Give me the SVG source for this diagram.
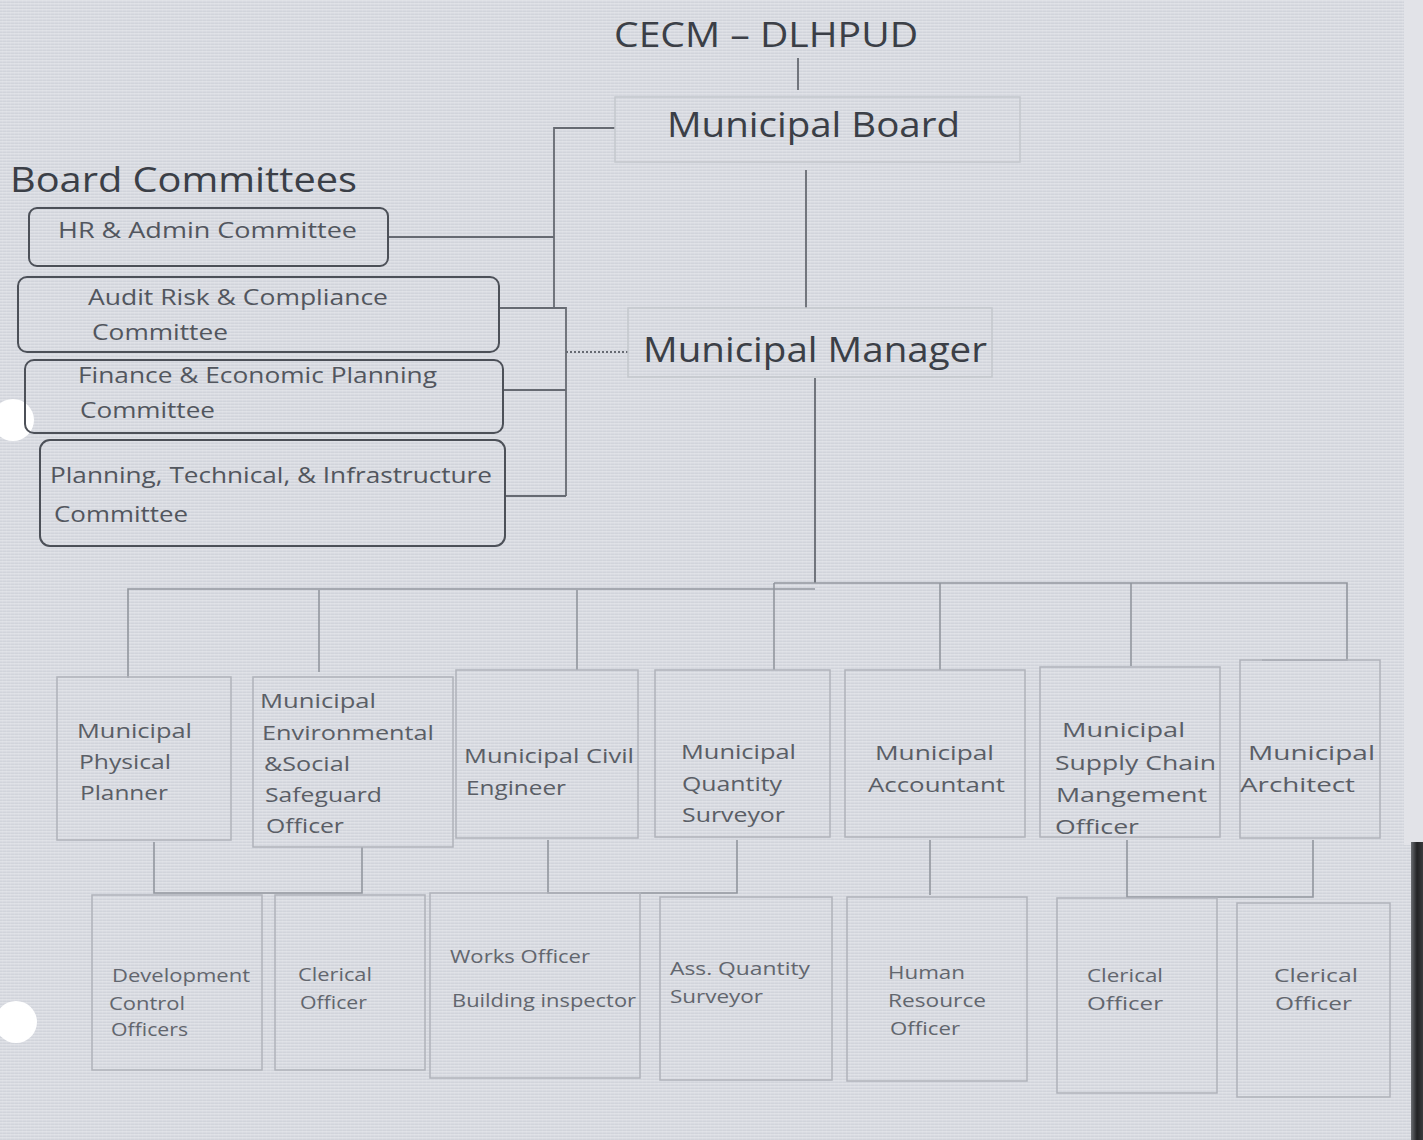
<svg xmlns="http://www.w3.org/2000/svg" width="1423" height="1140" viewBox="0 0 1423 1140">
<defs>
<pattern id="weave" width="4" height="3" patternUnits="userSpaceOnUse">
<rect width="4" height="1" fill="#ffffff" opacity="0.18"/>
<rect x="0" y="2" width="4" height="1" fill="#9a9ca6" opacity="0.10"/>
<rect x="2" y="0" width="1" height="3" fill="#ffffff" opacity="0.08"/>
</pattern>
<linearGradient id="edge" x1="0" y1="0" x2="1" y2="0">
<stop offset="0" stop-color="#6a6d72"/>
<stop offset="0.5" stop-color="#222325"/>
<stop offset="1" stop-color="#3a3b3e"/>
</linearGradient>
<style>
.t{font-family:"Open Sans","Liberation Sans",sans-serif;}
.big{font-size:35px;fill:#3b3f47;}
.com{font-size:21px;fill:#52565e;}
.mid{font-size:20.5px;fill:#5a5e66;}
.bot{font-size:17.5px;fill:#62666e;}
.cbox{fill:none;stroke:#4c5058;stroke-width:2;}
.fbox{fill:none;stroke:#b0b3ba;stroke-width:1.5;}
.vfbox{fill:none;stroke:#c4c7cd;stroke-width:1.5;}
.con{fill:none;stroke:#666a72;stroke-width:1.8;}
.fcon{fill:none;stroke:#92969e;stroke-width:1.6;}
</style>
</defs>
<rect width="1423" height="1140" fill="#d8dae1"/>
<rect width="1423" height="1140" fill="url(#weave)"/>
<rect x="1404" y="0" width="19" height="845" fill="#e2e3e8"/>
<rect x="1411" y="842" width="12" height="298" fill="url(#edge)"/>
<circle cx="13" cy="420" r="21" fill="#ffffff"/>
<circle cx="16" cy="1022" r="21" fill="#ffffff"/>

<g id="connectors">
<path class="con" d="M798 58 V90"/>
<path class="con" d="M615 128 H554 V308"/>
<path class="con" d="M388 237 H554"/>
<path class="con" d="M499 308 H566 V496"/>
<path class="con" d="M503 390 H566"/>
<path class="con" d="M505 496 H566"/>
<path class="con" d="M566 352 H628" stroke-dasharray="2 2"/>
<path class="con" d="M806 170 V308"/>
<path class="con" d="M815 378 V583"/>
<path class="fcon" d="M774 583 H1347 V660 H1262"/>
<path class="fcon" d="M815 589 H128 V678"/>
<path class="fcon" d="M319 590 V672"/>
<path class="fcon" d="M577 590 V670"/>
<path class="fcon" d="M774 583 V670"/>
<path class="fcon" d="M940 583 V670"/>
<path class="fcon" d="M1131 583 V666"/>
<path class="fcon" d="M154 842 V893 H362 V847"/>
<path class="fcon" d="M548 840 V893 H737 V840"/>
<path class="fcon" d="M930 840 V895"/>
<path class="fcon" d="M1127 840 V897 H1313 V840"/>
</g>

<g id="cecm">
<text class="t big" x="614" y="47" textLength="304" lengthAdjust="spacingAndGlyphs">CECM – DLHPUD</text>
</g>
<g id="municipal-board">
<rect class="vfbox" x="615" y="97" width="405" height="65"/>
<text class="t big" x="667" y="137" textLength="293" lengthAdjust="spacingAndGlyphs">Municipal Board</text>
</g>
<g id="board-committees">
<text class="t big" x="10" y="192" textLength="347" lengthAdjust="spacingAndGlyphs">Board Committees</text>
</g>
<g id="municipal-manager">
<rect class="vfbox" x="628" y="308" width="364" height="69"/>
<text class="t big" x="643" y="362" textLength="344" lengthAdjust="spacingAndGlyphs">Municipal Manager</text>
</g>

<g id="hr-admin">
<rect class="cbox" x="29" y="208" width="359" height="58" rx="8"/>
<text class="t com" x="58" y="238" textLength="299" lengthAdjust="spacingAndGlyphs">HR &amp; Admin Committee</text>
</g>
<g id="audit">
<rect class="cbox" x="18" y="277" width="481" height="75" rx="9"/>
<text class="t com" x="88" y="305" textLength="300" lengthAdjust="spacingAndGlyphs">Audit Risk &amp; Compliance</text>
<text class="t com" x="92" y="340" textLength="136" lengthAdjust="spacingAndGlyphs">Committee</text>
</g>
<g id="finance">
<rect class="cbox" x="25" y="360" width="478" height="73" rx="9"/>
<text class="t com" x="78" y="383" textLength="359" lengthAdjust="spacingAndGlyphs">Finance &amp; Economic Planning</text>
<text class="t com" x="80" y="418" textLength="135" lengthAdjust="spacingAndGlyphs">Committee</text>
</g>
<g id="planning">
<rect class="cbox" x="40" y="440" width="465" height="106" rx="10"/>
<text class="t com" x="50" y="483" textLength="442" lengthAdjust="spacingAndGlyphs">Planning, Technical, &amp; Infrastructure</text>
<text class="t com" x="54" y="522" textLength="134" lengthAdjust="spacingAndGlyphs">Committee</text>
</g>

<g id="physical-planner">
<rect class="fbox" x="57" y="677" width="174" height="163"/>
<text class="t mid" x="77" y="738" textLength="115" lengthAdjust="spacingAndGlyphs">Municipal</text>
<text class="t mid" x="79" y="769" textLength="92" lengthAdjust="spacingAndGlyphs">Physical</text>
<text class="t mid" x="80" y="800" textLength="88" lengthAdjust="spacingAndGlyphs">Planner</text>
</g>
<g id="env-officer">
<rect class="fbox" x="253" y="677" width="200" height="170"/>
<text class="t mid" x="260" y="708" textLength="116" lengthAdjust="spacingAndGlyphs">Municipal</text>
<text class="t mid" x="262" y="740" textLength="172" lengthAdjust="spacingAndGlyphs">Environmental</text>
<text class="t mid" x="264" y="771" textLength="86" lengthAdjust="spacingAndGlyphs">&amp;Social</text>
<text class="t mid" x="265" y="802" textLength="117" lengthAdjust="spacingAndGlyphs">Safeguard</text>
<text class="t mid" x="266" y="833" textLength="78" lengthAdjust="spacingAndGlyphs">Officer</text>
</g>
<g id="civil-engineer">
<rect class="fbox" x="456" y="670" width="182" height="168"/>
<text class="t mid" x="464" y="763" textLength="170" lengthAdjust="spacingAndGlyphs">Municipal Civil</text>
<text class="t mid" x="466" y="795" textLength="100" lengthAdjust="spacingAndGlyphs">Engineer</text>
</g>
<g id="quantity-surveyor">
<rect class="fbox" x="655" y="670" width="175" height="167"/>
<text class="t mid" x="681" y="759" textLength="115" lengthAdjust="spacingAndGlyphs">Municipal</text>
<text class="t mid" x="682" y="791" textLength="100" lengthAdjust="spacingAndGlyphs">Quantity</text>
<text class="t mid" x="682" y="822" textLength="103" lengthAdjust="spacingAndGlyphs">Surveyor</text>
</g>
<g id="accountant">
<rect class="fbox" x="845" y="670" width="180" height="167"/>
<text class="t mid" x="875" y="760" textLength="119" lengthAdjust="spacingAndGlyphs">Municipal</text>
<text class="t mid" x="868" y="792" textLength="137" lengthAdjust="spacingAndGlyphs">Accountant</text>
</g>
<g id="supply-chain">
<rect class="fbox" x="1040" y="667" width="180" height="170"/>
<text class="t mid" x="1062" y="737" textLength="123" lengthAdjust="spacingAndGlyphs">Municipal</text>
<text class="t mid" x="1055" y="770" textLength="161" lengthAdjust="spacingAndGlyphs">Supply Chain</text>
<text class="t mid" x="1056" y="802" textLength="151" lengthAdjust="spacingAndGlyphs">Mangement</text>
<text class="t mid" x="1055" y="834" textLength="84" lengthAdjust="spacingAndGlyphs">Officer</text>
</g>
<g id="architect">
<rect class="fbox" x="1240" y="660" width="140" height="178"/>
<text class="t mid" x="1248" y="760" textLength="127" lengthAdjust="spacingAndGlyphs">Municipal</text>
<text class="t mid" x="1240" y="792" textLength="115" lengthAdjust="spacingAndGlyphs">Architect</text>
</g>

<g id="dev-control">
<rect class="fbox" x="92" y="895" width="170" height="175"/>
<text class="t bot" x="112" y="982" textLength="138" lengthAdjust="spacingAndGlyphs">Development</text>
<text class="t bot" x="109" y="1010" textLength="76" lengthAdjust="spacingAndGlyphs">Control</text>
<text class="t bot" x="111" y="1036" textLength="77" lengthAdjust="spacingAndGlyphs">Officers</text>
</g>
<g id="clerical-1">
<rect class="fbox" x="275" y="895" width="150" height="175"/>
<text class="t bot" x="298" y="981" textLength="74" lengthAdjust="spacingAndGlyphs">Clerical</text>
<text class="t bot" x="300" y="1009" textLength="67" lengthAdjust="spacingAndGlyphs">Officer</text>
</g>
<g id="works-officer">
<rect class="fbox" x="430" y="893" width="210" height="185"/>
<text class="t bot" x="450" y="963" textLength="140" lengthAdjust="spacingAndGlyphs">Works Officer</text>
<text class="t bot" x="452" y="1007" textLength="184" lengthAdjust="spacingAndGlyphs">Building inspector</text>
</g>
<g id="ass-quantity">
<rect class="fbox" x="660" y="897" width="172" height="183"/>
<text class="t bot" x="670" y="975" textLength="140" lengthAdjust="spacingAndGlyphs">Ass. Quantity</text>
<text class="t bot" x="670" y="1003" textLength="93" lengthAdjust="spacingAndGlyphs">Surveyor</text>
</g>
<g id="hr-officer">
<rect class="fbox" x="847" y="897" width="180" height="184"/>
<text class="t bot" x="888" y="979" textLength="77" lengthAdjust="spacingAndGlyphs">Human</text>
<text class="t bot" x="888" y="1007" textLength="98" lengthAdjust="spacingAndGlyphs">Resource</text>
<text class="t bot" x="890" y="1035" textLength="70" lengthAdjust="spacingAndGlyphs">Officer</text>
</g>
<g id="clerical-2">
<rect class="fbox" x="1057" y="898" width="160" height="195"/>
<text class="t bot" x="1087" y="982" textLength="76" lengthAdjust="spacingAndGlyphs">Clerical</text>
<text class="t bot" x="1087" y="1010" textLength="76" lengthAdjust="spacingAndGlyphs">Officer</text>
</g>
<g id="clerical-3">
<rect class="fbox" x="1237" y="903" width="153" height="194"/>
<text class="t bot" x="1274" y="982" textLength="84" lengthAdjust="spacingAndGlyphs">Clerical</text>
<text class="t bot" x="1275" y="1010" textLength="77" lengthAdjust="spacingAndGlyphs">Officer</text>
</g>
</svg>
